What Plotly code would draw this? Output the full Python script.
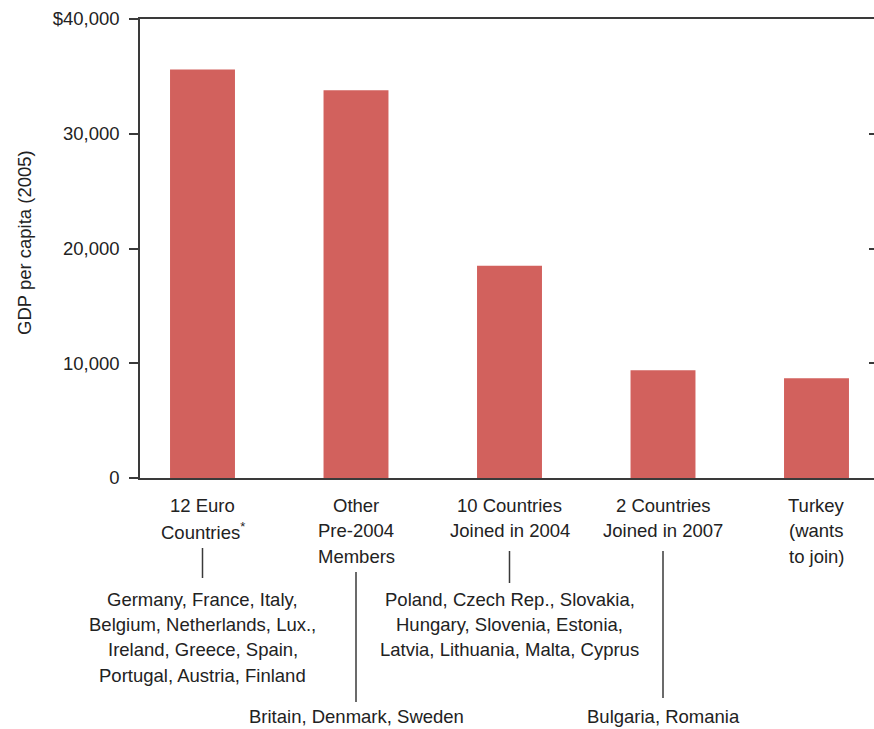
import plotly.graph_objects as go

categories = ["12 Euro Countries", "Other Pre-2004 Members", "10 Countries Joined in 2004",
              "2 Countries Joined in 2007", "Turkey (wants to join)"]
gdp_values = [35600, 33800, 18500, 9400, 8700]
cat_labels = [["12 Euro", "Countries<sup>*</sup>"], ["Other", "Pre-2004", "Members"],
              ["10 Countries", "Joined in 2004"], ["2 Countries", "Joined in 2007"],
              ["Turkey", "(wants", "to join)"]]
member_lists = [["Germany, France, Italy,", "Belgium, Netherlands, Lux.,", "Ireland, Greece, Spain,",
                 "Portugal, Austria, Finland"],
                ["Britain, Denmark, Sweden"],
                ["Poland, Czech Rep., Slovakia,", "Hungary, Slovenia, Estonia,",
                 "Latvia, Lithuania, Malta, Cyprus"],
                ["Bulgaria, Romania"],
                []]
tick_vals = [0, 10000, 20000, 30000, 40000]
tick_text = ["0", "10,000", "20,000", "30,000", "$40,000"]

W, H = 874, 729
L, R, T, B = 140, 0, 19, 251
PH = H - T - B
PW = W - L - R

def py(p):
    return (H - B - p) / PH

def pxp(p):
    return (p - L) / PW

FONT = "Liberation Sans, Arial, Helvetica, sans-serif"
FS = 18.5
TXT = "#222222"
AX = "#3a3a3a"
xs = list(range(len(categories)))

fig = go.Figure()
fig.add_trace(go.Bar(x=xs, y=gdp_values, marker_color="#D2615D", width=0.423,
                     marker_line_width=0, hoverinfo="skip"))
fig.add_trace(go.Scatter(x=[0], y=[0], yaxis="y2", mode="markers",
                         marker_opacity=0, showlegend=False, hoverinfo="skip"))

x0 = (L - 202.5) / 153.5
x1 = (W - R - 202.5) / 153.5
fig.update_layout(
    width=W, height=H, margin=dict(l=L, r=R, t=T, b=B),
    paper_bgcolor="white", plot_bgcolor="white", showlegend=False,
    font=dict(family=FONT, size=FS, color=TXT),
    xaxis=dict(range=[x0, x1], showgrid=False, zeroline=False, showticklabels=False,
               ticks="", showline=True, linecolor=AX, linewidth=1.5, mirror=True),
    yaxis=dict(range=[0, 40000], tickvals=tick_vals, ticktext=tick_text, showgrid=False,
               zeroline=False, showline=True, linecolor=AX, linewidth=1.5,
               ticks="outside", ticklen=9, tickwidth=1.5, tickcolor=AX,
               ticklabelstandoff=6,
               tickfont=dict(family=FONT, size=FS, color=TXT)),
    yaxis2=dict(range=[0, 40000], overlaying="y", side="right", tickvals=[10000, 20000, 30000],
                showticklabels=False, ticks="inside", ticklen=5, tickwidth=1.5, tickcolor=AX,
                showgrid=False, zeroline=False, showline=False),
)

annotations = []
annotations.append(dict(text="GDP per capita (2005)", textangle=-90, xref="paper", yref="paper",
                        x=pxp(24), y=py(243), showarrow=False, font=dict(size=FS, family=FONT, color=TXT),
                        xanchor="center", yanchor="middle"))

def add_lines(i, lines, y_start, step):
    for k, ln in enumerate(lines):
        annotations.append(dict(text=ln, xref="x", yref="paper", x=i, y=py(y_start + k * step),
                                yanchor="middle", xanchor="center", showarrow=False,
                                font=dict(size=FS, family=FONT, color=TXT)))

for i, lab in enumerate(cat_labels):
    add_lines(i, lab, 505, 25.5)

# member lists: (first line centre pixel, connector start, connector end)
list_layout = [(599.5, 548, 578), (716, 572, 702), (599.5, 551, 583), (716, 551, 698), None]
shapes = []
for i, (lines, lay) in enumerate(zip(member_lists, list_layout)):
    if not lines or lay is None:
        continue
    first, l0, l1 = lay
    add_lines(i, lines, first, 25.2)
    shapes.append(dict(type="line", xref="x", yref="paper", x0=i, x1=i, y0=py(l0), y1=py(l1),
                       line=dict(color=AX, width=1.5)))
fig.update_layout(annotations=annotations, shapes=shapes)
fig.write_html("out.html", config={"displayModeBar": False},
               post_script="document.body.style.margin='0px';document.body.style.overflow='hidden';")
